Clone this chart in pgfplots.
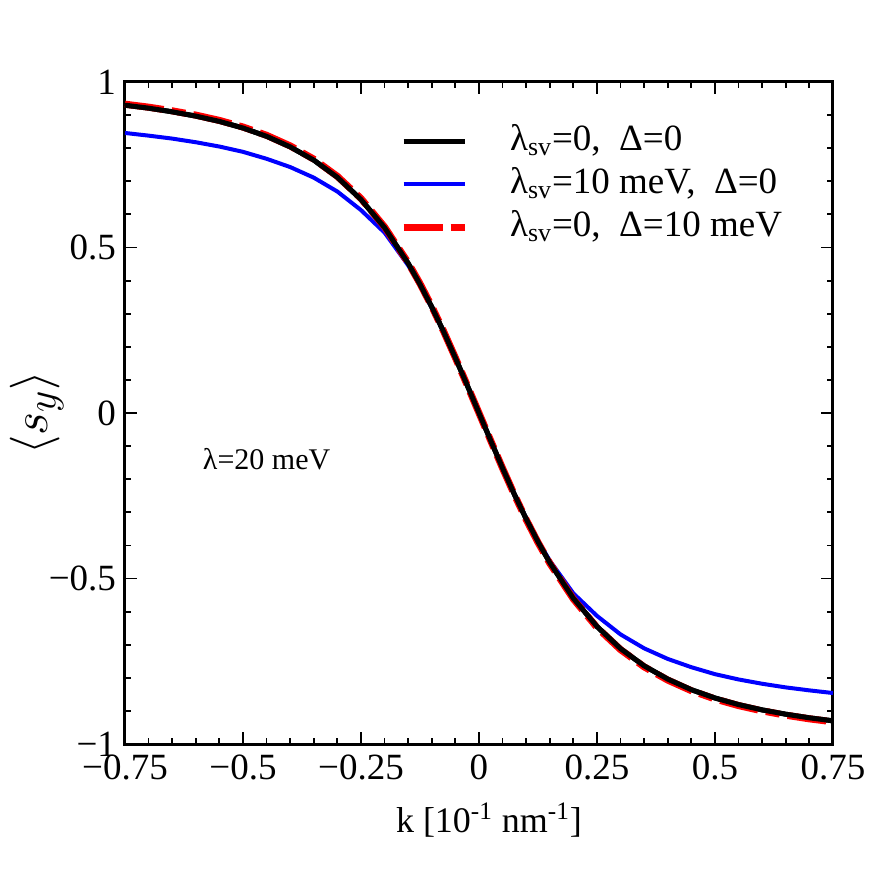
\documentclass[border=0pt]{standalone}
\usepackage{pgfplots}
\pgfplotsset{compat=1.18}
\usepackage{pgfplotstable}
\usepackage{fontspec}
\setmainfont{Liberation Serif}

\pgfplotstableread{
k s
-0.75 0.930
-0.70 0.921
-0.65 0.910
-0.60 0.897
-0.55 0.881
-0.50 0.861
-0.45 0.836
-0.40 0.804
-0.35 0.764
-0.30 0.712
-0.25 0.645
-0.20 0.560
-0.15 0.452
-0.125 0.389
-0.10 0.320
-0.075 0.246
-0.05 0.1666
-0.025 0.084
0.00 0.000
0.025 -0.084
0.05 -0.1666
0.075 -0.246
0.10 -0.320
0.125 -0.389
0.15 -0.452
0.20 -0.560
0.25 -0.645
0.30 -0.712
0.35 -0.764
0.40 -0.804
0.45 -0.836
0.50 -0.861
0.55 -0.881
0.60 -0.897
0.65 -0.910
0.70 -0.921
0.75 -0.930
}\blackdata

\pgfplotstableread{
k s
-0.75 0.846
-0.70 0.838
-0.65 0.829
-0.60 0.818
-0.55 0.805
-0.50 0.789
-0.45 0.768
-0.40 0.743
-0.35 0.711
-0.30 0.669
-0.25 0.613
-0.20 0.545
-0.15 0.446
-0.125 0.386
-0.10 0.318
-0.075 0.245
-0.05 0.166
-0.025 0.084
0.00 0.000
0.025 -0.084
0.05 -0.166
0.075 -0.245
0.10 -0.318
0.125 -0.386
0.15 -0.446
0.20 -0.545
0.25 -0.613
0.30 -0.669
0.35 -0.711
0.40 -0.743
0.45 -0.768
0.50 -0.789
0.55 -0.805
0.60 -0.818
0.65 -0.829
0.70 -0.838
0.75 -0.846
}\bluedata

\pgfplotstableread{
k s
-0.75 0.933
-0.70 0.924
-0.65 0.913
-0.60 0.900
-0.55 0.884
-0.50 0.864
-0.45 0.839
-0.40 0.807
-0.35 0.767
-0.30 0.715
-0.25 0.648
-0.20 0.562
-0.15 0.454
-0.125 0.391
-0.10 0.322
-0.075 0.247
-0.05 0.167
-0.025 0.084
0.00 0.000
0.025 -0.084
0.05 -0.167
0.075 -0.247
0.10 -0.322
0.125 -0.391
0.15 -0.454
0.20 -0.562
0.25 -0.648
0.30 -0.715
0.35 -0.767
0.40 -0.807
0.45 -0.839
0.50 -0.864
0.55 -0.884
0.60 -0.900
0.65 -0.913
0.70 -0.924
0.75 -0.933
}\reddata

\begin{document}
\begin{tikzpicture}
\useasboundingbox (-62.5pt,-73pt) rectangle (381.5pt,372pt);
\begin{axis}[
  at={(0pt,0pt)}, anchor=south west,
  scale only axis,
  width=354pt, height=331pt,
  xmin=-0.75, xmax=0.75, ymin=-1, ymax=1,
  xtick={-0.75,-0.5,-0.25,0,0.25,0.5,0.75},
  xticklabels={−0.75,−0.5,−0.25,0,0.25,0.5,0.75},
  ytick={-1,-0.5,0,0.5,1},
  yticklabels={−1,−0.5,0,0.5,1},
  minor x tick num=4,
  minor y tick num=4,
  tick align=inside,
  xtick pos=both, ytick pos=both,
  major tick length=6pt,
  minor tick length=3pt,
  every tick/.style={black, line width=0.9pt},
  axis line style={line width=1.5pt},
  tick label style={font=\fontsize{18.5}{22}\selectfont},
  xticklabel style={yshift=-2pt},
  yticklabel style={xshift=-1pt},
  xlabel={k [10\textsuperscript{-1} nm\textsuperscript{-1}]},
  xlabel style={font=\fontsize{18}{22}\selectfont, at={(rel axis cs:0.5,0)}, anchor=base, yshift=-44pt, xshift=5pt},
  legend style={draw=none, fill=none, at={(rel axis cs:0.388,0.937)}, anchor=north west,
    font=\fontsize{18.5}{22}\selectfont, inner sep=0pt, row sep=4.5pt,
    nodes={inner xsep=0pt, inner ysep=0pt, text height=13pt, text depth=4pt},
    /tikz/every odd column/.append style={column sep=21pt}},
  legend cell align=left,
  legend image code/.code={\draw[#1] (0pt,0pt) -- (30.5pt,0pt);},
  clip=false,
]
\addplot[black, line width=2.5pt] table[x=k,y=s] {\blackdata};
\addlegendentry{λ\textsubscript{sv}=0,~ Δ=0}
\addplot[blue, line width=2pt] table[x=k,y=s] {\bluedata};
\addlegendentry{λ\textsubscript{sv}=10 meV,~ Δ=0}
\addplot[red, line width=3.5pt, dash pattern=on 19.5pt off 4pt on 7pt off 4pt] table[x=k,y=s] {\reddata};
\addlegendentry{λ\textsubscript{sv}=0,~ Δ=10 meV}
\addplot[black, line width=2.5pt, forget plot] table[x=k,y=s] {\blackdata};
\node[font=\fontsize{15}{18}\selectfont] at (axis cs:-0.45,-0.14) {λ=20 meV};
\path (rel axis cs:0,0.5) ++(-44pt,0pt) node[rotate=90, inner sep=1pt, font=\fontsize{29.5}{35}\selectfont] {$\langle s_y\rangle$};
\end{axis}
\end{tikzpicture}
\end{document}
